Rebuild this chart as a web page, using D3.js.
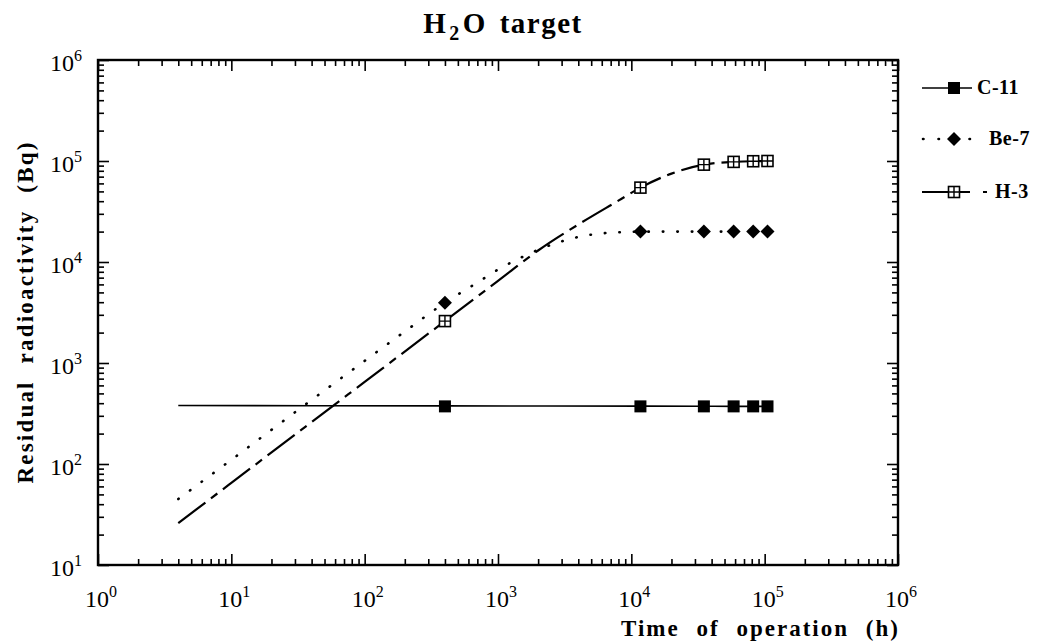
<!DOCTYPE html>
<html>
<head>
<meta charset="utf-8">
<script src="https://cdn.jsdelivr.net/npm/d3@7"></script>
<style>
  html, body { margin: 0; padding: 0; background: #fff; }
  svg { display: block; }
</style>
</head>
<body>
<svg id="chart" width="1042" height="641" font-family="'Liberation Serif', 'Times New Roman', Times, 'DejaVu Serif', serif"></svg>
<script>
// ---------- data ----------
const markerTimes = [400, 11700, 35000, 58500, 82000, 105000];

const c11LineTimes = [4, 400, 11700, 35000, 58500, 82000, 105000];
const c11LineValues = [380, 376, 374, 373, 372, 372, 372];
const c11MarkerValues = [372, 372, 372, 372, 372, 372];

const be7LineTimes = [4, 10, 30, 100, 200, 400, 700, 1000, 1500, 2000, 3000, 4000, 6000, 8000, 11700, 20000, 35000, 58500, 82000, 105000];
const be7LineValues = [45, 110, 325, 1050, 2050, 3950, 6250, 8400, 11100, 13200, 16000, 17700, 19200, 19700, 19950, 20000, 20000, 20000, 20000, 20000];
const be7MarkerValues = [3950, 20000, 20000, 20000, 20000, 20000];

const h3LineTimes = [4, 10, 30, 100, 400, 1000, 2000, 4000, 8000, 11700, 20000, 35000, 58500, 82000, 105000];
const h3LineValues = [26, 65, 195, 650, 2600, 6500, 13000, 23500, 40500, 54500, 75000, 92000, 98000, 99500, 100000];
const h3MarkerValues = [2600, 54500, 92000, 98000, 99500, 100000];

const xDecades = [1, 10, 100, 1000, 10000, 100000, 1000000];
const xExponents = ["0", "1", "2", "3", "4", "5", "6"];
const yDecades = [10, 100, 1000, 10000, 100000, 1000000];
const yExponents = ["1", "2", "3", "4", "5", "6"];

const seriesNames = ["C-11", "Be-7", "H-3"];

// ---------- layout ----------
const svg = d3.select("#chart");
const L = 98, R = 898, T = 60, B = 565;

const x = d3.scaleLog().domain([1, 1e6]).range([L, R]);
const y = d3.scaleLog().domain([10, 1e6]).range([B, T]);

function minorTicks(decades) {
  const out = [];
  for (let i = 0; i < decades.length - 1; i++) {
    for (let k = 2; k <= 9; k++) out.push(decades[i] * k);
  }
  return out;
}
const xMinor = minorTicks(xDecades);
const yMinor = minorTicks(yDecades);

const MAJ = 11, MIN = 6;

function styleAxis(g) {
  g.select(".domain").remove();
  g.selectAll(".tick line").attr("stroke", "#000").attr("stroke-width", 1.6);
}

// bottom
svg.append("g").attr("transform", `translate(0,${B})`)
  .call(d3.axisBottom(x).tickValues(xMinor).tickSize(-MIN).tickFormat(""))
  .call(styleAxis);
svg.append("g").attr("transform", `translate(0,${B})`)
  .call(d3.axisBottom(x).tickValues(xDecades).tickSize(-MAJ).tickFormat(""))
  .call(styleAxis);
// top
svg.append("g").attr("transform", `translate(0,${T})`)
  .call(d3.axisTop(x).tickValues(xMinor).tickSize(-MIN).tickFormat(""))
  .call(styleAxis);
svg.append("g").attr("transform", `translate(0,${T})`)
  .call(d3.axisTop(x).tickValues(xDecades).tickSize(-MAJ).tickFormat(""))
  .call(styleAxis);
// left
svg.append("g").attr("transform", `translate(${L},0)`)
  .call(d3.axisLeft(y).tickValues(yMinor).tickSize(-MIN).tickFormat(""))
  .call(styleAxis);
svg.append("g").attr("transform", `translate(${L},0)`)
  .call(d3.axisLeft(y).tickValues(yDecades).tickSize(-MAJ).tickFormat(""))
  .call(styleAxis);
// right
svg.append("g").attr("transform", `translate(${R},0)`)
  .call(d3.axisRight(y).tickValues(yMinor).tickSize(-MIN).tickFormat(""))
  .call(styleAxis);
svg.append("g").attr("transform", `translate(${R},0)`)
  .call(d3.axisRight(y).tickValues(yDecades).tickSize(-MAJ).tickFormat(""))
  .call(styleAxis);

// frame
svg.append("rect").attr("x", L).attr("y", T).attr("width", R - L).attr("height", B - T)
  .attr("fill", "none").attr("stroke", "#000").attr("stroke-width", 2.4);

// tick labels
const xLab = svg.append("g");
xDecades.forEach((d, i) => {
  const t = xLab.append("text").attr("x", x(d) + 3).attr("y", 607)
    .attr("text-anchor", "middle").attr("font-size", 24);
  t.append("tspan").text("10");
  t.append("tspan").attr("dy", -10).attr("font-size", 16).text(xExponents[i]);
});
const yLab = svg.append("g");
yDecades.forEach((d, i) => {
  const t = yLab.append("text").attr("x", 82).attr("y", y(d) + 11)
    .attr("text-anchor", "end").attr("font-size", 24);
  t.append("tspan").text("10");
  t.append("tspan").attr("dy", -10).attr("font-size", 16).text(yExponents[i]);
});

// fit a text to a target width: some extra word spacing, rest as letter spacing
function fitText(sel, target, wordExtra) {
  const str = sel.text();
  const len = sel.node().getComputedTextLength();
  const gaps = str.split(" ").length - 1;
  const ls = Math.max(0, (target - len - gaps * wordExtra) / str.length);
  sel.attr("letter-spacing", ls).attr("word-spacing", wordExtra);
}

// titles
const title = svg.append("text").attr("x", 503).attr("y", 33)
  .attr("text-anchor", "middle").attr("font-size", 29).attr("font-weight", "bold")
  .attr("letter-spacing", 1.5).attr("word-spacing", 4);
title.append("tspan").text("H");
title.append("tspan").attr("dy", 7).attr("font-size", 20).attr("dx", 2).text("2");
title.append("tspan").attr("dy", -7).attr("dx", 2).text("O target");

const xTitle = svg.append("text").attr("x", 900).attr("y", 636).attr("text-anchor", "end")
  .attr("font-size", 23).attr("font-weight", "bold")
  .text("Time of operation (h)");
fitText(xTitle, 279, 9);

const yTitle = svg.append("text").attr("transform", "translate(33,312) rotate(-90)")
  .attr("text-anchor", "middle").attr("font-size", 23).attr("font-weight", "bold")
  .text("Residual radioactivity (Bq)");
fitText(yTitle, 343, 9);

// ---------- lines ----------
const line = d3.line().x(d => x(d[0])).y(d => y(d[1])).curve(d3.curveMonotoneX);
const plot = svg.append("g");

plot.append("path").datum(d3.zip(c11LineTimes, c11LineValues))
  .attr("d", line).attr("fill", "none").attr("stroke", "#000").attr("stroke-width", 1.6);
plot.append("path").datum(d3.zip(be7LineTimes, be7LineValues))
  .attr("d", line).attr("fill", "none").attr("stroke", "#000").attr("stroke-width", 2.6)
  .attr("stroke-linecap", "round").attr("stroke-dasharray", "0.5,14");
plot.append("path").datum(d3.zip(h3LineTimes, h3LineValues))
  .attr("d", line).attr("fill", "none").attr("stroke", "#000").attr("stroke-width", 2.2)
  .attr("stroke-dasharray", "34,7,8,7");

// ---------- markers ----------
function squareMarker(g, cx, cy) {
  g.append("rect").attr("x", cx - 6).attr("y", cy - 6).attr("width", 12).attr("height", 12).attr("fill", "#000");
}
function diamondMarker(g, cx, cy) {
  g.append("path").attr("d", `M${cx},${cy - 7}L${cx + 7},${cy}L${cx},${cy + 7}L${cx - 7},${cy}Z`).attr("fill", "#000");
}
function crossSquareMarker(g, cx, cy) {
  g.append("rect").attr("x", cx - 5.5).attr("y", cy - 5.5).attr("width", 11).attr("height", 11)
    .attr("fill", "#fff").attr("stroke", "#000").attr("stroke-width", 1.6);
  g.append("path").attr("d", `M${cx - 5.5},${cy}H${cx + 5.5}M${cx},${cy - 5.5}V${cy + 5.5}`)
    .attr("stroke", "#000").attr("stroke-width", 1.4);
}

const mk = svg.append("g");
markerTimes.forEach((t, i) => squareMarker(mk, x(t), y(c11MarkerValues[i])));
markerTimes.forEach((t, i) => diamondMarker(mk, x(t), y(be7MarkerValues[i])));
markerTimes.forEach((t, i) => crossSquareMarker(mk, x(t), y(h3MarkerValues[i])));

// ---------- legend ----------
const lg = svg.append("g");
const legY = [88, 139, 192];
// C-11
lg.append("line").attr("x1", 922).attr("x2", 972).attr("y1", legY[0]).attr("y2", legY[0])
  .attr("stroke", "#000").attr("stroke-width", 1.6);
squareMarker(lg, 954, legY[0]);
// Be-7
lg.append("line").attr("x1", 923).attr("x2", 985).attr("y1", legY[1]).attr("y2", legY[1])
  .attr("stroke", "#000").attr("stroke-width", 2.6).attr("stroke-linecap", "round")
  .attr("stroke-dasharray", "0.5,15");
diamondMarker(lg, 954, legY[1]);
// H-3
lg.append("line").attr("x1", 922).attr("x2", 948).attr("y1", legY[2]).attr("y2", legY[2])
  .attr("stroke", "#000").attr("stroke-width", 2);
lg.append("line").attr("x1", 960).attr("x2", 970).attr("y1", legY[2]).attr("y2", legY[2])
  .attr("stroke", "#000").attr("stroke-width", 2);
lg.append("line").attr("x1", 983).attr("x2", 987).attr("y1", legY[2]).attr("y2", legY[2])
  .attr("stroke", "#000").attr("stroke-width", 2);
crossSquareMarker(lg, 954, legY[2]);

const legX = [977, 989, 995];
seriesNames.forEach((n, i) => {
  lg.append("text").attr("x", legX[i]).attr("y", legY[i] + 6)
    .attr("font-size", 20).attr("font-weight", "bold").attr("letter-spacing", 0.5).text(n);
});
</script>
</body>
</html>
